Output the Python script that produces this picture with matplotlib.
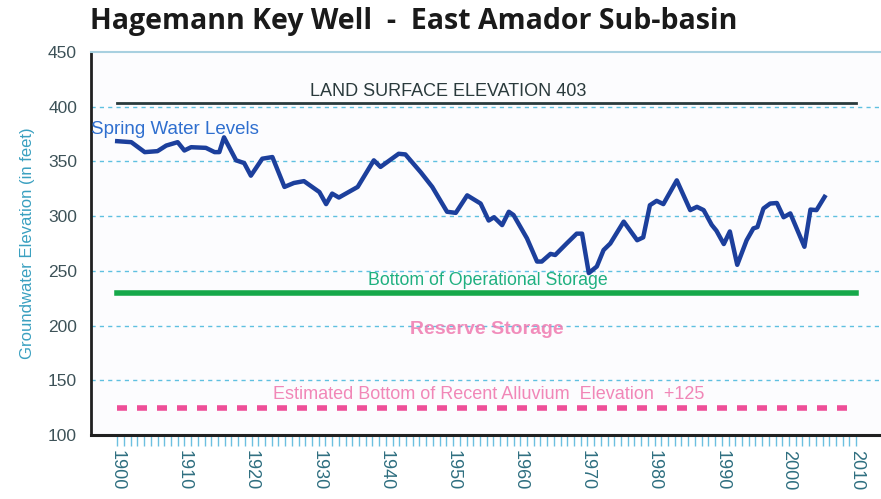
import matplotlib
matplotlib.use("Agg")
import matplotlib.pyplot as plt
import numpy as np

years = [1900.0, 1902.1, 1904.1, 1906.0, 1907.3, 1909.0, 1910.0, 1911.0, 1913.2, 1914.5,
         1915.2, 1915.9, 1917.7, 1918.9, 1919.9, 1921.6, 1923.1, 1924.9, 1926.3, 1927.8,
         1930.1, 1931.1, 1932.0, 1933.0, 1935.8, 1938.2, 1939.2, 1941.9, 1942.9, 1945.2,
         1946.9, 1949.1, 1950.4, 1952.1, 1954.1, 1955.3, 1956.1, 1957.3, 1958.3, 1959.0,
         1961.0, 1962.5, 1963.2, 1964.5, 1965.2, 1966.9, 1968.4, 1969.2, 1970.2, 1971.4,
         1972.4, 1973.4, 1975.4, 1977.4, 1978.3, 1979.3, 1980.3, 1981.3, 1983.3, 1985.3,
         1986.3, 1987.3, 1988.5, 1989.2, 1990.3, 1991.2, 1992.3, 1993.7, 1994.7, 1995.3,
         1996.2, 1997.2, 1998.2, 1999.2, 2000.2, 2002.3, 2003.2, 2004.1, 2005.3]
levels = [368.5, 367.6, 358.5, 359.4, 364.5, 367.6, 360.0, 363.0, 362.4, 358.5,
          358.5, 372.0, 351.0, 348.5, 337.0, 352.5, 354.0, 326.7, 330.3, 332.0,
          322.0, 311.0, 320.6, 317.0, 326.7, 351.0, 345.0, 357.0, 356.4, 340.0,
          326.7, 304.0, 303.0, 319.0, 311.5, 296.0, 299.0, 291.8, 304.0, 301.0,
          279.7, 258.5, 258.5, 265.5, 264.5, 275.0, 284.0, 284.0, 248.0, 254.0,
          269.0, 275.0, 295.0, 278.0, 280.6, 310.0, 314.0, 311.0, 332.7, 305.5,
          308.5, 305.5, 292.0, 286.7, 274.5, 286.0, 255.5, 278.0, 288.8, 290.0,
          307.0, 311.5, 312.0, 299.0, 302.5, 272.0, 306.0, 305.5, 317.6]

land_surface = 403
operational_bottom = 230
alluvium_bottom = 125
decade_ticks = list(range(1900, 2011, 10))
y_ticks = [100, 150, 200, 250, 300, 350, 400, 450]

fig = plt.figure(figsize=(8.81, 4.99), dpi=100)
ax = fig.add_axes([91/881, 1 - 435/499, 1 - 91/881, (435 - 52)/499])
ax.set_facecolor('#fcfcfe')

ax.set_xlim(1896.1, 2013.7)
ax.set_ylim(100, 450)

for v in [150, 200, 250, 300, 350, 400]:
    ax.axhline(v, color='#5fc0e0', lw=1.0, ls=(0, (3, 3)), zorder=1)

ax.plot([1900, 2010], [land_surface]*2, color='#2a3a3c', lw=2.0, zorder=2)
ax.plot([1900, 2010], [operational_bottom]*2, color='#16a84a', lw=4.0, zorder=2)
ax.plot([1900, 2009.5], [alluvium_bottom]*2, color='#ee4e98', lw=4.0, ls=(0, (1.8, 1.8)), zorder=2)
ax.plot(years, levels, color='#1c3f9c', lw=3.2, solid_joinstyle='round', zorder=3)

ax.text(1949.3, 414, 'LAND SURFACE ELEVATION 403', ha='center', va='center',
        fontsize=13, color='#2a3a3c', family='Liberation Sans')
ax.text(1896.1, 379, 'Spring Water Levels', ha='left', va='center',
        fontsize=13.5, color='#2f6fcf', family='Liberation Sans')
ax.text(1955.2, 241, 'Bottom of Operational Storage', ha='center', va='center',
        fontsize=12.8, color='#1fb080', family='Liberation Sans')
ax.text(1955.0, 196, 'Reserve Storage', ha='center', va='center',
        fontsize=14, color='#f07ab0', fontweight='bold', family='Liberation Sans', alpha=0.85)
ax.text(1955.3, 137, 'Estimated Bottom of Recent Alluvium  Elevation  +125', ha='center', va='center',
        fontsize=13, color='#f07ab0', family='Liberation Sans', alpha=0.9)

for s in ['right']:
    ax.spines[s].set_visible(False)
ax.spines['top'].set_color('#a8d0e0')
ax.spines['top'].set_linewidth(1.5)
ax.spines['left'].set_color('#202020')
ax.spines['left'].set_linewidth(2)
ax.spines['bottom'].set_color('#202020')
ax.spines['bottom'].set_linewidth(2.2)

ax.set_xticks(decade_ticks)
ax.set_xticklabels([str(t) for t in decade_ticks], rotation=270, fontsize=13,
                   color='#2f6f80', family='Liberation Sans')
ax.set_xticks(list(range(1900, 2011)), minor=True)
ax.tick_params(axis='x', which='both', length=8, width=1, color='#6cc0e0', direction='out', pad=3)
ax.set_yticks(y_ticks)
ax.set_yticklabels([str(t) for t in y_ticks], fontsize=12.5, color='#3d5258', family='Liberation Sans')
ax.tick_params(axis='y', length=0, pad=10)
ax.set_ylabel('Groundwater Elevation (in feet)', fontsize=12, color='#3aa0c0',
              family='Liberation Sans', labelpad=9)

fig.text(90/881, 1 - 22/499, 'Hagemann Key Well  -  East Amador Sub-basin', ha='left', va='center',
         fontsize=20.5, fontweight='bold', color='#1a1a1a', family='Open Sans')

fig.savefig('out.png', dpi=100, facecolor='white')
